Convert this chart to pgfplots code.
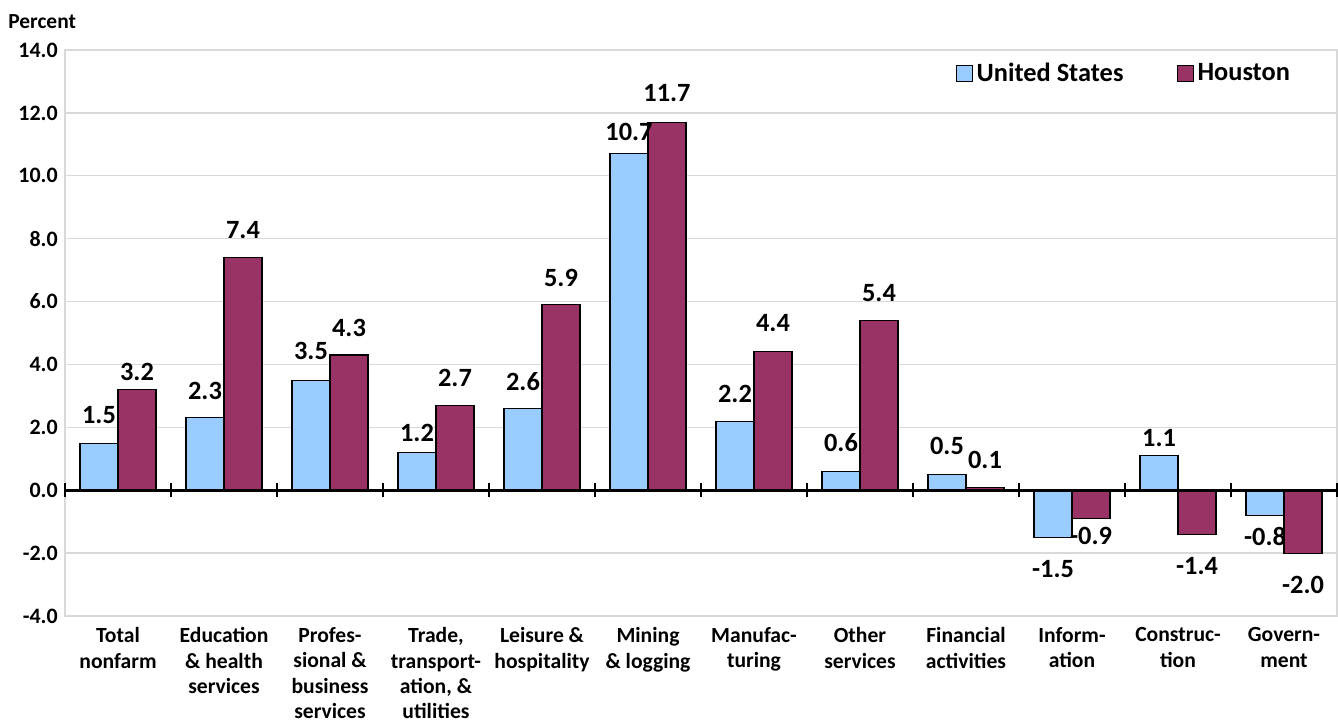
\documentclass[border=0pt]{standalone}
\usepackage{pgfplots}
\pgfplotsset{compat=1.18}
\usepackage{pgfplotstable}
\usepackage{fontspec}
\setmainfont{Carlito}
\definecolor{usblue}{HTML}{99CCFF}
\definecolor{houmaroon}{HTML}{993366}
\definecolor{gridgray}{HTML}{D9D9D9}

\pgfplotstableread{
x y dy
0 1.5 0.38
1 2.3 0.36
2 3.5 0.40
3 1.2 0.20
4 2.6 0.34
5 10.7 0.26
6 2.2 0.36
7 0.6 0.38
8 0.5 0.38
9 -1.5 -0.44
10 1.1 0.16
11 -0.8 -0.22
}\usdata

\pgfplotstableread{
x y dy
0 3.2 0.16
1 7.4 0.36
2 4.3 0.36
3 2.7 0.36
4 5.9 0.34
5 11.7 0.40
6 4.4 0.40
7 5.4 0.36
8 0.1 0.36
9 -0.9 -0.16
10 -1.4 -0.46
11 -2.0 -0.46
}\houdata

\begin{document}
\begin{tikzpicture}
\useasboundingbox (0,0) rectangle (26.76,14.42);
\begin{axis}[
  at={(1.3cm,2.1cm)}, anchor=south west,
  scale only axis,
  width=25.44cm, height=11.32cm,
  xmin=-0.5, xmax=11.5,
  ymin=-4, ymax=14,
  ytick={-4,-2,...,14},
  xtick={0,...,11},
  xticklabels={
    {Total\\nonfarm},
    {Education\\\& health\\services},
    {Profes-\\sional \&\\business\\services},
    {Trade,\\transport-\\ation, \&\\utilities},
    {Leisure \&\\hospitality},
    {Mining\\\& logging},
    {Manufac-\\turing},
    {Other\\services},
    {Financial\\activities},
    {Inform-\\ation},
    {Construc-\\tion},
    {Govern-\\ment}},
  major tick length=0pt,
  axis line style={gridgray, line width=0.8pt},
  ymajorgrids,
  grid style={gridgray, line width=0.8pt},
  yticklabel style={font=\bfseries\fontsize{12.5}{14.7}\selectfont},
  xticklabel style={font=\bfseries\fontsize{12.3}{14.5}\selectfont,
    align=center, anchor=north, inner sep=0pt, yshift=-0.22cm},
  yticklabel style={anchor=east, inner sep=0pt, xshift=-0.14cm,
    /pgf/number format/.cd, fixed, fixed zerofill, precision=1, assume math mode=true},
  ybar=0pt,
  bar width=0.76cm,
  nodes near coords,
  nodes near coords align=vertical,
  visualization depends on={\thisrow{dy} \as \labeldy},
  every node near coord/.append style={font=\bfseries\fontsize{15}{17}\selectfont,
    inner sep=0pt, yshift=\labeldy cm, text=black,
    /pgf/number format/.cd, fixed, fixed zerofill, precision=1, assume math mode=true},
  legend columns=2,
  legend style={draw=none, fill=none, at={(0.966,0.959)}, anchor=east,
    font=\bfseries\fontsize{15}{17}\selectfont, inner sep=0pt,
    /tikz/every even column/.append style={column sep=1.0cm}},
  legend image code/.code={\draw[#1, line width=0.6pt] (0cm,-0.16cm) rectangle (0.32cm,0.16cm);},
  clip=false,
]
\addplot[fill=usblue, draw=black, line width=0.6pt] table[x=x, y=y] {\usdata};
\addlegendentry{United States}
\addplot[fill=houmaroon, draw=black, line width=0.6pt] table[x=x, y=y] {\houdata};
\addlegendentry{Houston}
\draw[black, line width=1.7pt] (axis cs:-0.5,0) -- (axis cs:11.5,0);
\pgfplotsinvokeforeach{-0.5,0.5,1.5,2.5,3.5,4.5,5.5,6.5,7.5,8.5,9.5,10.5,11.5}{
  \draw[black, line width=0.6pt] ([yshift=-0.14cm]axis cs:#1,0) -- ([yshift=0.14cm]axis cs:#1,0);
}
\node[anchor=base west, inner sep=0pt, font=\bfseries\fontsize{12.2}{14}\selectfont]
  at ([xshift=-1.14cm, yshift=0.44cm]rel axis cs:0,1) {Percent};
\end{axis}
\end{tikzpicture}
\end{document}
